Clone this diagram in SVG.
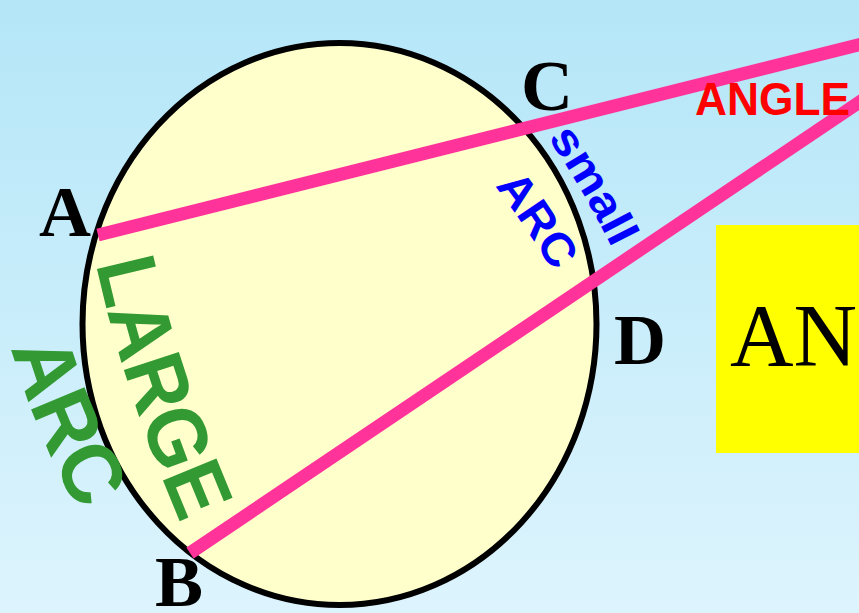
<svg xmlns="http://www.w3.org/2000/svg" width="859" height="613" viewBox="0 0 859 613">
<defs>
<linearGradient id="bg" x1="0" y1="0" x2="0" y2="1">
<stop offset="0" stop-color="#B4E6F8"/>
<stop offset="1" stop-color="#DDF4FD"/>
</linearGradient>
<path id="pSmall" d="M548,138 Q586,194 618,260"/>
<path id="pArcBlue" d="M495,186 Q527,228 558,280"/>
<path id="pLarge" d="M96,264 Q126,400 188,540"/>
<path id="pArcGreen" d="M11,348 Q36,436 86,525"/>
</defs>
<style>
.lbl{font-family:"Liberation Serif","Times New Roman",serif;font-weight:bold;font-size:72px;fill:#000}
.sans{font-family:"Liberation Sans",Arial,sans-serif;font-weight:bold}
.chord{stroke:#FF3399;stroke-width:13;fill:none}
</style>
<rect width="859" height="613" fill="url(#bg)"/>
<g id="circle">
<ellipse cx="339.5" cy="324" rx="257" ry="281" fill="#FFFFCC" stroke="#000" stroke-width="6"/>
</g>
<g id="box">
<rect x="716" y="225" width="143" height="228" fill="#FFFF00"/>
<text x="730" y="365" font-family="Liberation Serif, Times New Roman, serif" font-size="88" fill="#000">ANG</text>
</g>
<g id="connectors">
<line class="chord" x1="98" y1="235" x2="870" y2="42"/>
<line class="chord" x1="190" y1="553" x2="870" y2="95"/>
</g>
<g id="label-A"><text class="lbl" x="39" y="236">A</text></g>
<g id="label-B"><text class="lbl" x="155" y="606">B</text></g>
<g id="label-C"><text class="lbl" x="521" y="110">C</text></g>
<g id="label-D"><text class="lbl" x="614" y="364">D</text></g>
<g id="label-angle"><text class="sans" x="695" y="115" font-size="47" fill="#FF0000" textLength="155" lengthAdjust="spacingAndGlyphs">ANGLE</text></g>
<g id="label-small"><text class="sans" font-size="45" fill="#0000FF"><textPath href="#pSmall" textLength="128" lengthAdjust="spacingAndGlyphs">small</textPath></text></g>
<g id="label-arc-blue"><text class="sans" font-size="46" fill="#0000FF"><textPath href="#pArcBlue" textLength="104" lengthAdjust="spacingAndGlyphs">ARC</textPath></text></g>
<g id="label-large"><text class="sans" font-size="84" fill="#339933"><textPath href="#pLarge" textLength="274" lengthAdjust="spacingAndGlyphs">LARGE</textPath></text></g>
<g id="label-arc-green"><text class="sans" font-size="84" fill="#339933"><textPath href="#pArcGreen" textLength="178" lengthAdjust="spacingAndGlyphs">ARC</textPath></text></g>
</svg>
